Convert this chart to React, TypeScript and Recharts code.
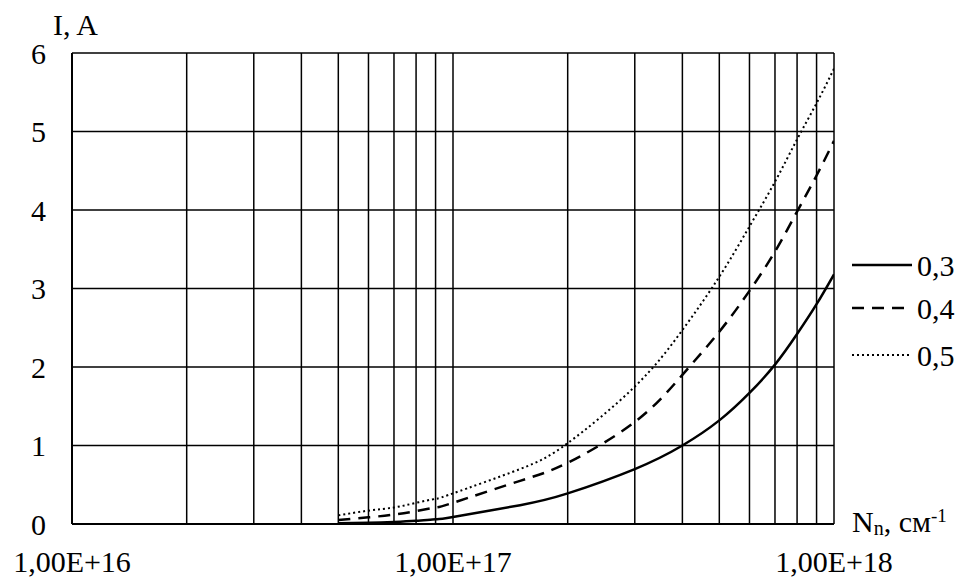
import React from 'react';
import { LineChart, Line, XAxis, YAxis, CartesianGrid, Label } from 'recharts';

// Concentration N_n, cm^-1 (log scale)
const xValues = [5e16, 6e16, 7e16, 8e16, 9e16, 1e17, 1.5e17, 2e17, 3e17, 4e17, 5e17, 6e17, 7e17, 8e17, 9e17, 1e18];
// Current I, A for each parameter value
const current03 = [0.01, 0.015, 0.025, 0.04, 0.06, 0.09, 0.24, 0.39, 0.7, 1.0, 1.32, 1.67, 2.03, 2.42, 2.8, 3.18];
const current04 = [0.05, 0.085, 0.12, 0.165, 0.21, 0.27, 0.55, 0.78, 1.3, 1.9, 2.45, 2.97, 3.47, 3.98, 4.44, 4.88];
const current05 = [0.11, 0.17, 0.21, 0.27, 0.32, 0.39, 0.7, 1.03, 1.75, 2.47, 3.15, 3.79, 4.36, 4.9, 5.36, 5.8];

const seriesNames = ['0,3', '0,4', '0,5'];
const seriesKeys = ['s03', 's04', 's05'];
const seriesDash = ['', '12 8', '2 3'];
const seriesWidth = [2.5, 2.5, 2];

const xGridTicks = [
  1e16, 2e16, 3e16, 4e16, 5e16, 6e16, 7e16, 8e16, 9e16,
  1e17, 2e17, 3e17, 4e17, 5e17, 6e17, 7e17, 8e17, 9e17, 1e18,
];
const xDecades = [1e16, 1e17, 1e18];
const xDecadeLabels = ['1,00E+16', '1,00E+17', '1,00E+18'];
const yTicks = [0, 1, 2, 3, 4, 5, 6];

const data = xValues.map((x, i) => ({ x, s03: current03[i], s04: current04[i], s05: current05[i] }));

const FONT = "'Liberation Serif', 'Times New Roman', serif";
const FS = 30;

const XTick = (props: any) => {
  const { x, y, payload } = props;
  const idx = xDecades.findIndex((d) => Math.abs(d - payload.value) / d < 1e-6);
  if (idx < 0) return null;
  return (
    <text x={x} y={y + 40} textAnchor="middle" fontFamily={FONT} fontSize={FS} fill="#000">
      {xDecadeLabels[idx]}
    </text>
  );
};

const YTick = (props: any) => {
  const { x, y, payload } = props;
  return (
    <text x={x - 18} y={y} dy="0.35em" textAnchor="end" fontFamily={FONT} fontSize={FS} fill="#000">
      {payload.value}
    </text>
  );
};

const LegendBox = () => (
  <svg width={106} height={130} style={{ position: 'absolute', left: 850, top: 245 }}>
    {seriesNames.map((name, i) => {
      const cy = [20, 63, 110][i];
      return (
        <g key={name}>
          <line x1={2} x2={62} y1={cy} y2={cy} stroke="#000" strokeWidth={seriesWidth[i]} strokeDasharray={seriesDash[i] || undefined} />
          <text x={67} y={cy} dy="0.35em" fontFamily={FONT} fontSize={FS} fill="#000">{name}</text>
        </g>
      );
    })}
  </svg>
);

const XTitle = (props: any) => {
  const vb = props.viewBox;
  return (
    <text x={vb.x + vb.width + 18} y={vb.y + 8} fontFamily={FONT} fontSize={FS} fill="#000">
      N
      <tspan fontSize={20} dy={3}>n</tspan>
      <tspan dy={-3}>, см</tspan>
      <tspan fontSize={19} dy={-10}>-1</tspan>
    </text>
  );
};

const YTitle = (props: any) => {
  const vb = props.viewBox;
  return (
    <text x={vb.x + 53} y={vb.y - 18} fontFamily={FONT} fontSize={FS} fill="#000">
      I, A
    </text>
  );
};

export default function App() {
  return (
    <div style={{ position: 'absolute', left: 0, top: 0, width: 956, height: 578, background: '#fff' }}>
      <LineChart width={956} height={578} data={data} margin={{ top: 53, right: 122, left: 0, bottom: 0 }}>
        <CartesianGrid stroke="#000" strokeWidth={1.5} />
        <XAxis
          dataKey="x"
          type="number"
          scale="log"
          domain={[1e16, 1e18]}
          ticks={xGridTicks}
          allowDataOverflow
          height={54}
          axisLine={{ stroke: '#000', strokeWidth: 2 }}
          tickLine={false}
          tick={<XTick />}
          interval={0}
        >
          <Label content={<XTitle />} />
        </XAxis>
        <YAxis
          type="number"
          domain={[0, 6]}
          ticks={yTicks}
          width={72}
          axisLine={{ stroke: '#000', strokeWidth: 2 }}
          tickLine={false}
          tick={<YTick />}
          interval={0}
        >
          <Label content={<YTitle />} />
        </YAxis>
        {seriesKeys.map((k, i) => (
          <Line
            key={k}
            dataKey={k}
            name={seriesNames[i]}
            type="natural"
            stroke="#000"
            strokeWidth={seriesWidth[i]}
            strokeDasharray={seriesDash[i] || undefined}
            dot={false}
            activeDot={false}
            isAnimationActive={false}
          />
        ))}
      </LineChart>
      <LegendBox />
    </div>
  );
}
